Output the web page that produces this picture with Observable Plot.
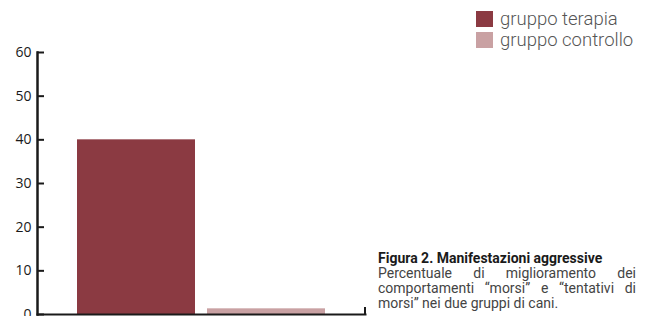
<!DOCTYPE html>
<html>
<head>
<meta charset="utf-8">
<script src="https://cdn.jsdelivr.net/npm/d3@7"></script>
<script src="https://cdn.jsdelivr.net/npm/@observablehq/plot@0.6"></script>
<style>
  html, body { margin: 0; padding: 0; background: #fff; overflow: hidden; }
  #wrap { position: relative; width: 649px; height: 316px; overflow: hidden; }
  #chart svg { display: block; }
  #legend { position: absolute; left: 476px; top: 8px; font-family: Roboto, "Noto Sans", sans-serif; font-weight: 300; font-size: 18.5px; color: #555; }
  #legend .item { display: flex; align-items: center; height: 21.5px; }
  #legend .sw { width: 17px; height: 16px; margin-right: 7px; }
  #caption { position: absolute; left: 378px; top: 251px; width: 258px; font-family: Roboto, "Noto Sans", sans-serif; font-size: 14px; line-height: 15px; color: #444; }
  #caption .title { font-weight: bold; color: #1a1a1a; white-space: nowrap; }
  #caption .line { white-space: nowrap; }
  #caption .just { text-align: justify; text-align-last: justify; }
</style>
</head>
<body>
<div id="wrap">
  <div id="chart"></div>
  <div id="legend"></div>
  <div id="caption"></div>
</div>
<script>
const groups = ["gruppo terapia", "gruppo controllo"];
const values = [40, 1.3];
const colors = ["#8b3a42", "#c9a1a3"];
const yTicks = [0, 10, 20, 30, 40, 50, 60];
const captionTitle = "Figura 2. Manifestazioni aggressive";
const captionLines = [
  "Percentuale di miglioramento dei",
  "comportamenti \u201cmorsi\u201d e \u201ctentativi di",
  "morsi\u201d nei due gruppi di cani."
];

const data = groups.map((g, i) => ({group: g, value: values[i]}));

const endTick = (index, scales, vals, dims) => {
  const x = dims.width - dims.marginRight;
  const y0 = scales.y(0);
  return d3.create("svg:path")
    .attr("d", `M${x},${y0}V${y0 - 7}`)
    .attr("stroke", "#1a1a1a")
    .attr("stroke-width", 2)
    .attr("fill", "none")
    .node();
};

const chart = Plot.plot({
  width: 649,
  height: 316,
  marginLeft: 37,
  marginRight: 284,
  marginTop: 52,
  marginBottom: 2,
  style: {fontFamily: "'Open Sans', 'Noto Sans', sans-serif", color: "#1a1a1a", background: "transparent"},
  x: {domain: groups, paddingInner: 0.092, paddingOuter: 0.3, axis: null},
  y: {domain: [0, 60], axis: null},
  color: {domain: groups, range: colors},
  marks: [
    Plot.barY(data, {x: "group", y: "value", fill: "group"}),
    Plot.frame({anchor: "left", stroke: "#1a1a1a", strokeWidth: 2.5}),
    Plot.frame({anchor: "bottom", stroke: "#1a1a1a", strokeWidth: 2}),
    Plot.axisY({ticks: yTicks, tickSize: -7, tickPadding: 13, strokeWidth: 2, stroke: "#1a1a1a", fill: "#1a1a1a", fontSize: 14, tickFormat: d => String(d), label: null}),
    endTick
  ]
});
document.getElementById("chart").appendChild(chart);

const legend = d3.select("#legend");
groups.forEach((g, i) => {
  const it = legend.append("div").attr("class", "item");
  it.append("div").attr("class", "sw").style("background", colors[i]);
  it.append("span").text(g);
});

const cap = d3.select("#caption");
cap.append("div").attr("class", "title").text(captionTitle);
captionLines.forEach((l, i) => {
  cap.append("div").attr("class", i < captionLines.length - 1 ? "line just" : "line").text(l);
});
</script>
</body>
</html>
